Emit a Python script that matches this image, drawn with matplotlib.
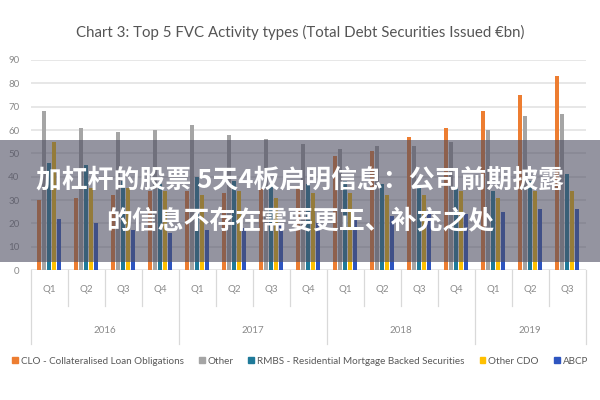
import matplotlib
matplotlib.use("Agg")
import matplotlib.pyplot as plt
import numpy as np
from matplotlib.patches import Rectangle
from matplotlib.lines import Line2D
import matplotlib.transforms as mtransforms

years = ["2016", "2017", "2018", "2019"]
quarters = ["Q1", "Q2", "Q3", "Q4", "Q1", "Q2", "Q3", "Q4",
            "Q1", "Q2", "Q3", "Q4", "Q1", "Q2", "Q3"]
series_names = ["CLO - Collateralised Loan Obligations", "Other",
                "RMBS - Residential Mortgage Backed Securities", "Other CDO", "ABCP"]
clo = [30, 31, 32, 34, 34, 33, 35, 35, 49, 51, 57, 61, 68, 75, 83]
other = [68, 61, 59, 60, 62, 58, 56, 54, 52, 53, 53, 55, 60, 66, 67]
rmbs = [46, 45, 38, 37, 40, 38, 36, 37, 38, 37, 36, 36, 34, 38, 41]
other_cdo = [55, 35, 35, 34, 32, 34, 31, 33, 33, 32, 32, 34, 31, 34, 34]
abcp = [22, 20, 17, 16, 17, 18, 20, 20, 22, 23, 24, 24, 25, 26, 26]
colors = ["#ED7D31", "#A5A5A5", "#1F7A99", "#FFC000", "#2E55C0"]
overlay_lines = ["加杠杆的股票 5天4板启明信息：公司前期披露",
                 "的信息不存在需要更正、补充之处"]

data = [clo, other, rmbs, other_cdo, abcp]

plt.rcParams['font.family'] = ['Lato', 'DejaVu Sans']
fig = plt.figure(figsize=(6, 4), dpi=100)
ax = fig.add_axes([0.051, 0.325, 0.925, 0.525])

x = np.arange(len(quarters))
step = 0.135
width = 0.11
for i, (vals, c) in enumerate(zip(data, colors)):
    ax.bar(x + (i - 2) * step, vals, width=width, color=c, label=series_names[i], zorder=3)

ax.set_xlim(-0.5, len(quarters) - 0.5)
ax.set_ylim(0, 90)
ax.set_yticks(np.arange(0, 91, 10))
ax.yaxis.grid(True, color="#E3E3E3", linewidth=1.2, zorder=0)
ax.tick_params(axis='y', length=0, labelsize=7, labelcolor="#8A8A8A", pad=8)
ax.tick_params(axis='x', length=0, labelbottom=False)
for s in ax.spines.values():
    s.set_visible(False)

trans = mtransforms.blended_transform_factory(ax.transData, ax.transAxes)
for i, q in enumerate(quarters):
    ax.text(i, -0.095, q, transform=trans, ha='center', va='center',
            fontsize=7, color="#8A8A8A")
# separators
for b in range(len(quarters) + 1):
    xb = b - 0.5
    is_year = b in (0, 4, 8, 12, 15)
    ybot = -0.352 if is_year else -0.171
    ax.add_line(Line2D([xb, xb], [0, ybot], transform=trans, color="#D9D9D9",
                       linewidth=0.9, clip_on=False))
year_starts = [0, 4, 8, 12]
year_ends = [4, 8, 12, 15]
for y, s, e in zip(years, year_starts, year_ends):
    ax.text((s + e) / 2 - 0.5, -0.29, y, transform=trans, ha='center', va='center',
            fontsize=7, color="#8A8A8A")

fig.text(0.5, 1 - 32.5 / 400, "Chart 3: Top 5 FVC Activity types (Total Debt Securities Issued €bn)",
         ha='center', va='center', fontsize=10.8, color="#555555")

handles = [Rectangle((0, 0), 1, 1, color=c) for c in colors]
fig.legend(handles, series_names, loc='center', bbox_to_anchor=(0.5, 1 - 361 / 400),
           ncol=5, frameon=False, fontsize=7.1, handlelength=0.6, handleheight=0.6,
           handletextpad=0.3, columnspacing=1.5, labelcolor="#595959")

# overlay band
fig.patches.append(Rectangle((0, 1 - 262 / 400), 1, 122 / 400, transform=fig.transFigure,
                             facecolor=(0.30, 0.30, 0.38), alpha=0.6, zorder=10,
                             edgecolor='none'))
cjk = ['Noto Sans CJK SC', 'DejaVu Sans']
fig.text(0.5, 1 - 180 / 400, overlay_lines[0], ha='center', va='center', fontsize=18.6,
         color='white', fontweight='bold', family=cjk, zorder=11)
fig.text(0.5, 1 - 222 / 400, overlay_lines[1], ha='center', va='center', fontsize=18.6,
         color='white', fontweight='bold', family=cjk, zorder=11)

fig.savefig("out.png", dpi=100)
